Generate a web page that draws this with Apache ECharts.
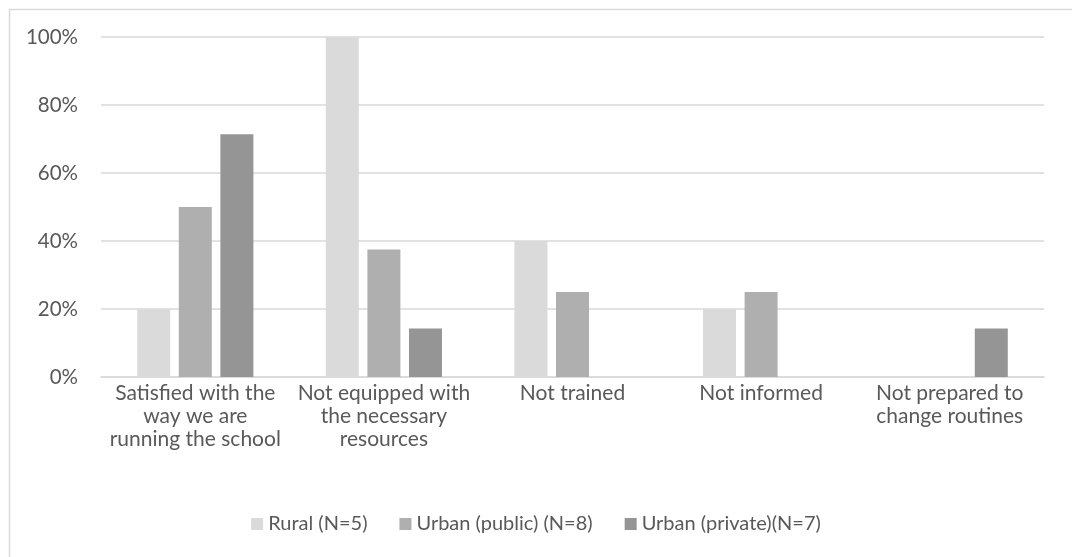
<!DOCTYPE html>
<html>
<head>
<meta charset="utf-8">
<script src="https://cdn.jsdelivr.net/npm/echarts@6/dist/echarts.min.js"></script>
<style>
html,body{margin:0;padding:0;background:#fff;}
#main{width:1072px;height:557px;}
</style>
</head>
<body>
<div id="main"></div>
<script>
var categories = [
  'Satisfied with the\nway we are\nrunning the school',
  'Not equipped with\nthe necessary\nresources',
  'Not trained',
  'Not informed',
  'Not prepared to\nchange routines'
];
var seriesNames = ['Rural (N=5)', 'Urban (public) (N=8)', 'Urban (private)(N=7)'];
var rural = [20, 100, 40, 20, 0];
var urbanPublic = [50, 37.5, 25, 25, 0];
var urbanPrivate = [71.4, 14.3, 0, 0, 14.3];
var yTicks = [0, 20, 40, 60, 80, 100];

var colors = ['#dadada', '#afafaf', '#959595'];
var font = 'Lato';

var chart = echarts.init(document.getElementById('main'));
var mk = function (name, data, i) {
  return {
    name: name, type: 'bar', data: data,
    barWidth: 33, barGap: '26%',
    itemStyle: { color: colors[i] },
    emphasis: { disabled: true }
  };
};
chart.setOption({
  animation: false,
  textStyle: { fontFamily: font },
  graphic: [{
    type: 'rect', left: 7, top: 7,
    shape: { width: 1100, height: 600 },
    style: { fill: 'none', stroke: '#d9d9d9', lineWidth: 1.5 },
    silent: true
  }],
  grid: { left: 101, right: 28, top: 37, bottom: 180, containLabel: false },
  legend: {
    top: 509, left: 'center',
    itemWidth: 12, itemHeight: 12, itemGap: 32,
    icon: 'rect',
    textStyle: { fontSize: 20, color: '#595959', fontFamily: font },
    data: seriesNames
  },
  xAxis: {
    type: 'category', data: categories,
    axisLine: { lineStyle: { color: '#d9d9d9', width: 1.5 } },
    axisTick: { show: false },
    axisLabel: { color: '#595959', fontSize: 21, lineHeight: 23, margin: 5, interval: 0, fontFamily: font }
  },
  yAxis: {
    type: 'value', min: yTicks[0], max: yTicks[yTicks.length - 1], interval: 20,
    axisLine: { show: false }, axisTick: { show: false },
    splitLine: { lineStyle: { color: '#d9d9d9', width: 1.5 } },
    axisLabel: { color: '#595959', fontSize: 20.5, margin: 23, formatter: '{value}%', fontFamily: font }
  },
  series: [mk(seriesNames[0], rural, 0), mk(seriesNames[1], urbanPublic, 1), mk(seriesNames[2], urbanPrivate, 2)]
});
</script>
</body>
</html>
